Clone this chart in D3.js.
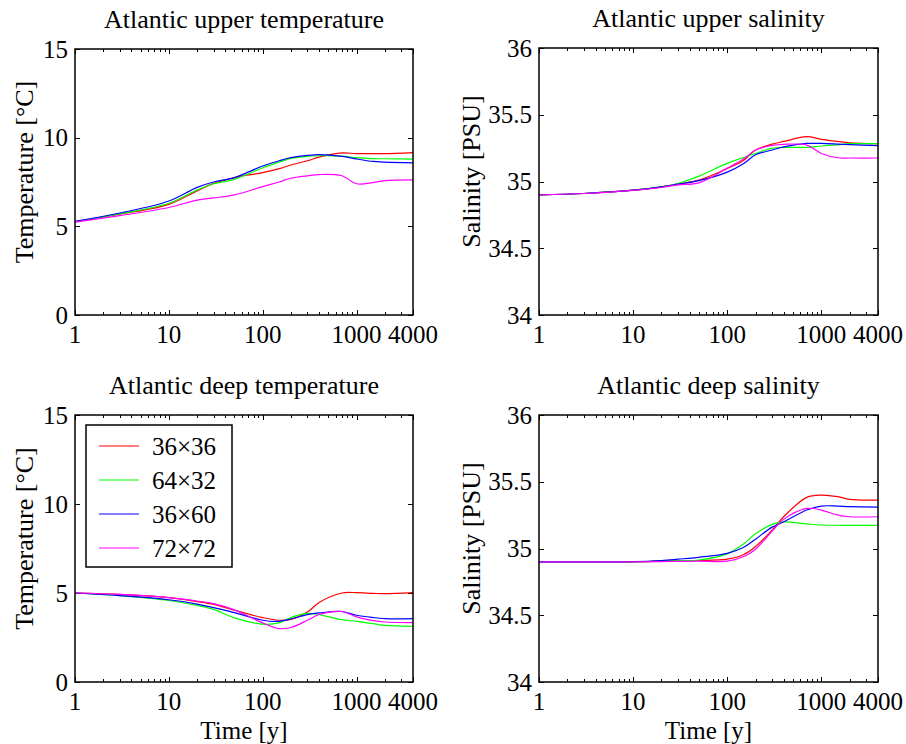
<!DOCTYPE html>
<html><head><meta charset="utf-8">
<script src="https://cdn.jsdelivr.net/npm/d3@7"></script>
<style>body{margin:0;background:#fff}svg{display:block}text{font-family:"Liberation Serif","Times New Roman",serif;fill:#000}</style>
</head><body><svg id="c" width="906" height="744"></svg>
<script>
const times = [1,3,10,20,30,50,100,150,200,300,400,700,1000,1500,2000,4000];
const seriesNames = ["36\u00d736","64\u00d732","36\u00d760","72\u00d772"];
const seriesColors = ["#ff0000","#00ff00","#0000ff","#ff00ff"];
const xTickValues = [1,10,100,1000,4000];
const tempTicks = [0,5,10,15];
const salTicks = [34,34.5,35,35.5,36];

const upperTemp = [
 [5.26,5.68,6.24,7.0,7.42,7.75,8.03,8.25,8.46,8.7,8.9,9.14,9.1,9.1,9.1,9.16],
 [5.26,5.7,6.3,7.05,7.4,7.65,8.3,8.62,8.83,8.95,8.98,8.96,8.87,8.82,8.81,8.79],
 [5.28,5.75,6.43,7.2,7.5,7.75,8.4,8.7,8.87,9.0,9.04,8.95,8.8,8.66,8.62,8.58],
 [5.24,5.6,6.06,6.48,6.6,6.77,7.24,7.5,7.71,7.85,7.92,7.85,7.4,7.47,7.58,7.62]
];
const upperSal = [
 [34.9,34.91,34.935,34.96,34.98,35.01,35.097,35.16,35.236,35.28,35.3,35.336,35.316,35.3,35.29,35.283],
 [34.9,34.91,34.935,34.96,34.985,35.04,35.136,35.18,35.21,35.25,35.255,35.256,35.266,35.275,35.283,35.283],
 [34.9,34.91,34.935,34.96,34.98,35.006,35.07,35.135,35.2,35.236,35.26,35.285,35.285,35.28,35.276,35.268],
 [34.9,34.91,34.933,34.955,34.975,34.99,35.1,35.17,35.236,35.27,35.278,35.273,35.21,35.178,35.176,35.176]
];
const deepTemp = [
 [5.0,4.92,4.74,4.52,4.36,4.03,3.62,3.47,3.52,3.93,4.47,5.0,5.02,4.98,4.96,5.02],
 [5.0,4.85,4.58,4.3,4.08,3.6,3.25,3.32,3.62,3.85,3.79,3.5,3.41,3.28,3.18,3.13],
 [5.0,4.85,4.62,4.38,4.18,3.9,3.47,3.41,3.54,3.79,3.88,3.96,3.75,3.62,3.56,3.56],
 [5.0,4.92,4.74,4.55,4.4,4.05,3.32,3.0,3.06,3.47,3.79,3.96,3.66,3.45,3.37,3.34]
];
const deepSal = [
 [34.9,34.9,34.9,34.905,34.907,34.91,34.92,34.955,35.015,35.138,35.24,35.383,35.4,35.388,35.368,35.363],
 [34.9,34.9,34.9,34.905,34.908,34.914,34.96,35.035,35.11,35.181,35.199,35.184,35.176,35.174,35.173,35.173],
 [34.9,34.9,34.902,34.91,34.92,34.934,34.964,35.01,35.07,35.16,35.2,35.288,35.318,35.318,35.313,35.31],
 [34.9,34.9,34.9,34.902,34.903,34.905,34.905,34.94,34.995,35.13,35.22,35.3,35.288,35.25,35.238,35.238]
];

const svg = d3.select("#c");
const FT = 25, FL = 26;

function panel(o){
  const g = svg.append("g");
  const x = d3.scaleLog().domain([1,4000]).range([o.x0,o.x1]);
  const y = d3.scaleLinear().domain(o.ydom).range([o.y1,o.y0]);
  const minor = [];
  for (let d=1; d<=1000; d*=10) for (let k=2;k<=9;k++){ if(d*k<=4000) minor.push(d*k); }
  const tl = 5, tm = 3;
  const tg = g.append("g").attr("stroke","#000").attr("stroke-width",1);
  minor.forEach(v=>{
    const px = Math.round(x(v))+0.5;
    tg.append("line").attr("x1",px).attr("x2",px).attr("y1",o.y1).attr("y2",o.y1-tm);
    tg.append("line").attr("x1",px).attr("x2",px).attr("y1",o.y0).attr("y2",o.y0+tm);
  });
  xTickValues.forEach(v=>{
    const px = Math.round(x(v))+0.5;
    tg.append("line").attr("x1",px).attr("x2",px).attr("y1",o.y1).attr("y2",o.y1-tl);
    tg.append("line").attr("x1",px).attr("x2",px).attr("y1",o.y0).attr("y2",o.y0+tl);
    g.append("text").attr("x",x(v)).attr("y",o.y1+28).attr("text-anchor","middle")
      .attr("font-size",FT).text(d3.format("d")(v));
  });
  o.yticks.forEach(v=>{
    const py = Math.round(y(v))+0.5;
    tg.append("line").attr("x1",o.x0).attr("x2",o.x0+tl).attr("y1",py).attr("y2",py);
    tg.append("line").attr("x1",o.x1).attr("x2",o.x1-tl).attr("y1",py).attr("y2",py);
    g.append("text").attr("x",o.x0-7).attr("y",y(v)+8.5).attr("text-anchor","end")
      .attr("font-size",FT).text(v);
  });
  const line = d3.line().x((d,i)=>x(times[i])).y(d=>y(d)).curve(d3.curveCatmullRom.alpha(0.5));
  o.data.forEach((s,i)=>{
    g.append("path").attr("d",line(s)).attr("fill","none")
      .attr("stroke",seriesColors[i]).attr("stroke-width",1.2);
  });
  g.append("rect").attr("x",o.x0).attr("y",o.y0).attr("width",o.x1-o.x0).attr("height",o.y1-o.y0)
    .attr("fill","none").attr("stroke","#000").attr("stroke-width",1.5);
  g.append("text").attr("x",(o.x0+o.x1)/2).attr("y",o.y0-21).attr("text-anchor","middle")
    .attr("font-size",FL).text(o.title);
  g.append("text").attr("transform",`translate(${o.ylx},${(o.y0+o.y1)/2-10}) rotate(-90)`)
    .attr("text-anchor","middle").attr("font-size",FL).text(o.ylabel);
  if (o.xlabel) g.append("text").attr("x",(o.x0+o.x1)/2).attr("y",o.y1+56.5)
    .attr("text-anchor","middle").attr("font-size",FT).text(o.xlabel);
  return {g,x,y};
}

panel({x0:75,x1:413,y0:49,y1:315,ydom:[0,15],yticks:tempTicks,data:upperTemp,
  title:"Atlantic upper temperature",ylabel:"Temperature [\u00b0C]",ylx:33});
panel({x0:539,x1:878,y0:48,y1:315,ydom:[34,36],yticks:salTicks,data:upperSal,
  title:"Atlantic upper salinity",ylabel:"Salinity [PSU]",ylx:480});
panel({x0:75,x1:413,y0:415,y1:682,ydom:[0,15],yticks:tempTicks,data:deepTemp,
  title:"Atlantic deep temperature",ylabel:"Temperature [\u00b0C]",ylx:33,xlabel:"Time [y]"});
panel({x0:539,x1:878,y0:415,y1:682,ydom:[34,36],yticks:salTicks,data:deepSal,
  title:"Atlantic deep salinity",ylabel:"Salinity [PSU]",ylx:480,xlabel:"Time [y]"});

const lg = svg.append("g");
lg.append("rect").attr("x",86).attr("y",425).attr("width",146).attr("height",142)
  .attr("fill","#fff").attr("stroke","#000").attr("stroke-width",1.5);
seriesNames.forEach((n,i)=>{
  const yy = 446 + i*34;
  lg.append("line").attr("x1",99).attr("x2",139).attr("y1",yy).attr("y2",yy)
    .attr("stroke",seriesColors[i]).attr("stroke-width",1.2);
  lg.append("text").attr("x",152).attr("y",yy+9).attr("font-size",FT).text(n);
});
</script></body></html>
